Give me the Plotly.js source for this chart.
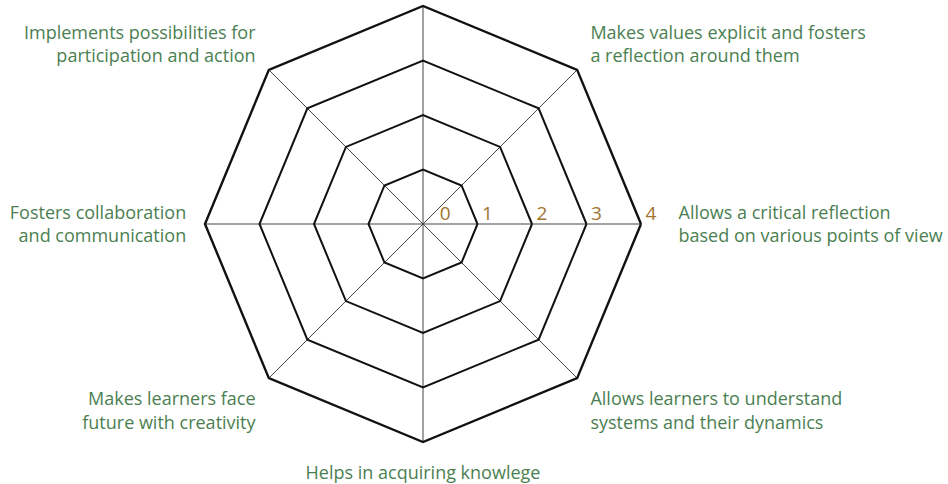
<!DOCTYPE html>
<html>
<head>
<meta charset="utf-8">
<script src="https://cdn.plot.ly/plotly-3.0.1.min.js"></script>
<style>
  html, body { margin: 0; padding: 0; background: #fff; }
  #radar { width: 948px; height: 484px; }
</style>
</head>
<body>
<div id="radar"></div>
<script>
// axes of the radar, counterclockwise from the right
// (nbsp in front of the first label keeps it clear of the "4" tick)
let pad = '\u00a0\u00a0\u00a0\u00a0';
let criteria = [
  pad + 'Allows a critical reflection<br>' + pad + 'based on various points of view',
  'Makes values explicit and fosters<br>a reflection around them',
  ' ',
  'Implements possibilities for<br>participation and action',
  'Fosters collaboration<br>and communication',
  'Makes learners face<br>future with creativity',
  'Helps in acquiring knowlege',
  'Allows learners to understand<br>systems and their dynamics'
];
let scores = [0, 0, 0, 0, 0, 0, 0, 0];

let levels = [0, 1, 2, 3, 4];
let levelText = ['\u00a0\u00a0\u00a0\u00a0\u00a0\u00a0\u00a0\u00a0\u00a00', '\u00a0\u00a0\u00a0\u00a01', '\u00a0\u00a0\u00a0\u00a02', '\u00a0\u00a0\u00a0\u00a03', '\u00a0\u00a0\u00a0\u00a04'];

let green = '#4b7f52';
let brown = '#a0742e';

let data = [{
  type: 'scatterpolar',
  theta: criteria,
  r: scores,
  mode: 'lines',
  line: {color: 'rgba(0,0,0,0)', width: 0},
  hoverinfo: 'skip',
  showlegend: false
}];

let layout = {
  width: 948,
  height: 484,
  margin: {l: 0, r: 102, t: 6, b: 42},
  paper_bgcolor: '#fff',
  font: {family: 'Open Sans, sans-serif', size: 18, color: green},
  showlegend: false,
  polar: {
    bgcolor: '#fff',
    gridshape: 'linear',
    radialaxis: {
      range: [0, 4],
      tickvals: levels,
      ticktext: levelText,
      angle: 0,
      side: 'counterclockwise',
      showline: false,
      ticks: '',
      gridcolor: '#111',
      gridwidth: 2.2,
      tickfont: {size: 19, color: brown}
    },
    angularaxis: {
      direction: 'counterclockwise',
      rotation: 0,
      showline: true,
      linecolor: '#111',
      linewidth: 2.4,
      gridcolor: '#444',
      gridwidth: 1,
      ticks: 'outside',
      ticklen: 14,
      tickcolor: 'rgba(0,0,0,0)',
      tickfont: {size: 18, color: green}
    }
  }
};

Plotly.newPlot('radar', data, layout, {displayModeBar: false});
</script>
</body>
</html>
